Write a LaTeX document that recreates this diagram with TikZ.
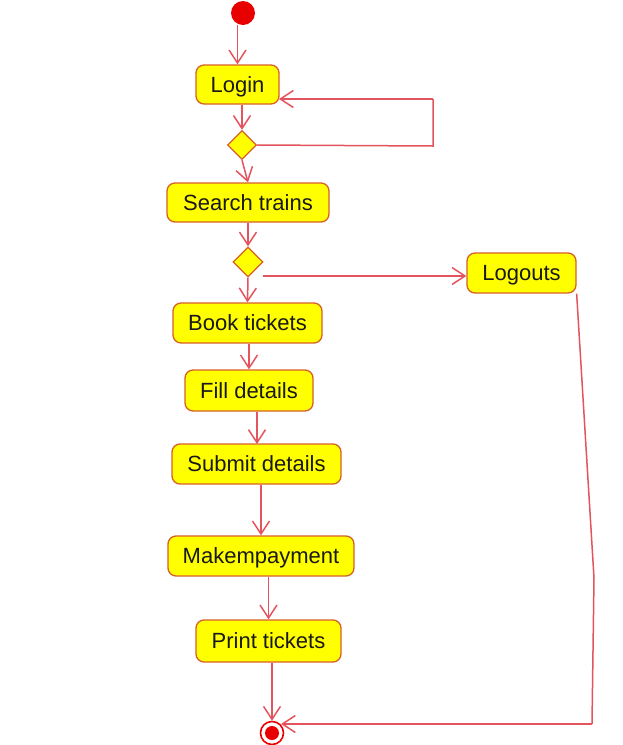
\documentclass[tikz,border=0pt]{standalone}
\usepackage{fontspec}
\setmainfont{Liberation Sans}
\usetikzlibrary{shapes.geometric,arrows.meta}
\definecolor{nodey}{RGB}{255,255,0}
\definecolor{nodeb}{RGB}{214,96,40}
\definecolor{edgec}{RGB}{228,84,94}
\definecolor{dotred}{RGB}{232,0,0}
\begin{document}
\begin{tikzpicture}[x=1pt,y=-1pt,
  act/.style={rectangle, rounded corners=8pt, draw=nodeb, fill=nodey, line width=1.3pt,
    minimum height=40pt, inner sep=0pt, text height=15.5pt, text depth=0pt,
    font=\fontsize{22}{26}\selectfont, text=black!90},
  dec/.style={diamond, draw=nodeb, fill=nodey, line width=1.3pt, inner sep=0pt, minimum size=29pt},
  arr/.style={draw=edgec, line width=1.5pt, -{Straight Barb[length=13pt,width=17pt,line width=1.5pt]}},
  plain/.style={draw=edgec, line width=1.5pt}]
\useasboundingbox (0,0) rectangle (623,745);

\node[circle, fill=dotred, minimum size=24pt, inner sep=0pt] (start) at (243,13) {};
\node[act, minimum width=83pt, minimum height=39pt] (login) at (237.5,84.5) {Login};
\node[dec] (d1) at (242,145) {};
\node[act, minimum width=162pt, minimum height=39pt] (search) at (248,202.5) {Search trains};
\node[dec, minimum size=30pt] (d2) at (248,262) {};
\node[act, minimum width=109pt] (lo) at (521.5,273) {Logouts};
\node[act, minimum width=149pt] (book) at (247.5,323) {Book tickets};
\node[act, minimum width=128pt, minimum height=41pt] (fill) at (249,390.5) {Fill details};
\node[act, minimum width=169pt] (submit) at (256.5,464) {Submit details};
\node[act, minimum width=186pt] (make) at (261,556) {Makempayment};
\node[act, minimum width=145pt, minimum height=42pt] (print) at (268.5,641) {Print tickets};
\node[circle, draw=dotred, line width=1.6pt, fill=white, minimum size=23pt, inner sep=0pt] (end) at (272,733) {};
\fill[dotred] (end.center) circle (7pt);

\coordinate (l1) at (433,146);
\coordinate (l2) at (433,99);
\coordinate (l3) at (279,99);
\coordinate (d2r) at (263,276);
\coordinate (r1) at (594,578);
\coordinate (r2) at (592,724);
\coordinate (e1) at (281,724);

\draw[arr] (start.south -| login.north) -- (login.north);
\draw[arr] (login.south -| d1.north) -- (d1.north);
\draw[arr] (d1.south) -- (search.north);
\draw[plain] (d1.east) -- (l1) -- (l2);
\draw[arr] (l2) -- (l3);
\draw[arr] (search.south -| d2.north) -- (d2.north);
\draw[arr] (d2.south) -- (book.north);
\draw[arr] (d2r) -- (d2r -| lo.west);
\draw[arr] (book.south -| fill.north) -- (fill.north);
\draw[arr] (fill.south -| 257,0) -- (257,444);
\draw[arr] (submit.south -| make.north) -- (make.north);
\draw[arr] (make.south -| print.north) -- (print.north);
\draw[arr] (print.south -| end.north) -- (end.north);
\draw[plain] (lo.south east) -- (r1) -- (r2);
\draw[arr] (r2) -- (e1);
\end{tikzpicture}
\end{document}
